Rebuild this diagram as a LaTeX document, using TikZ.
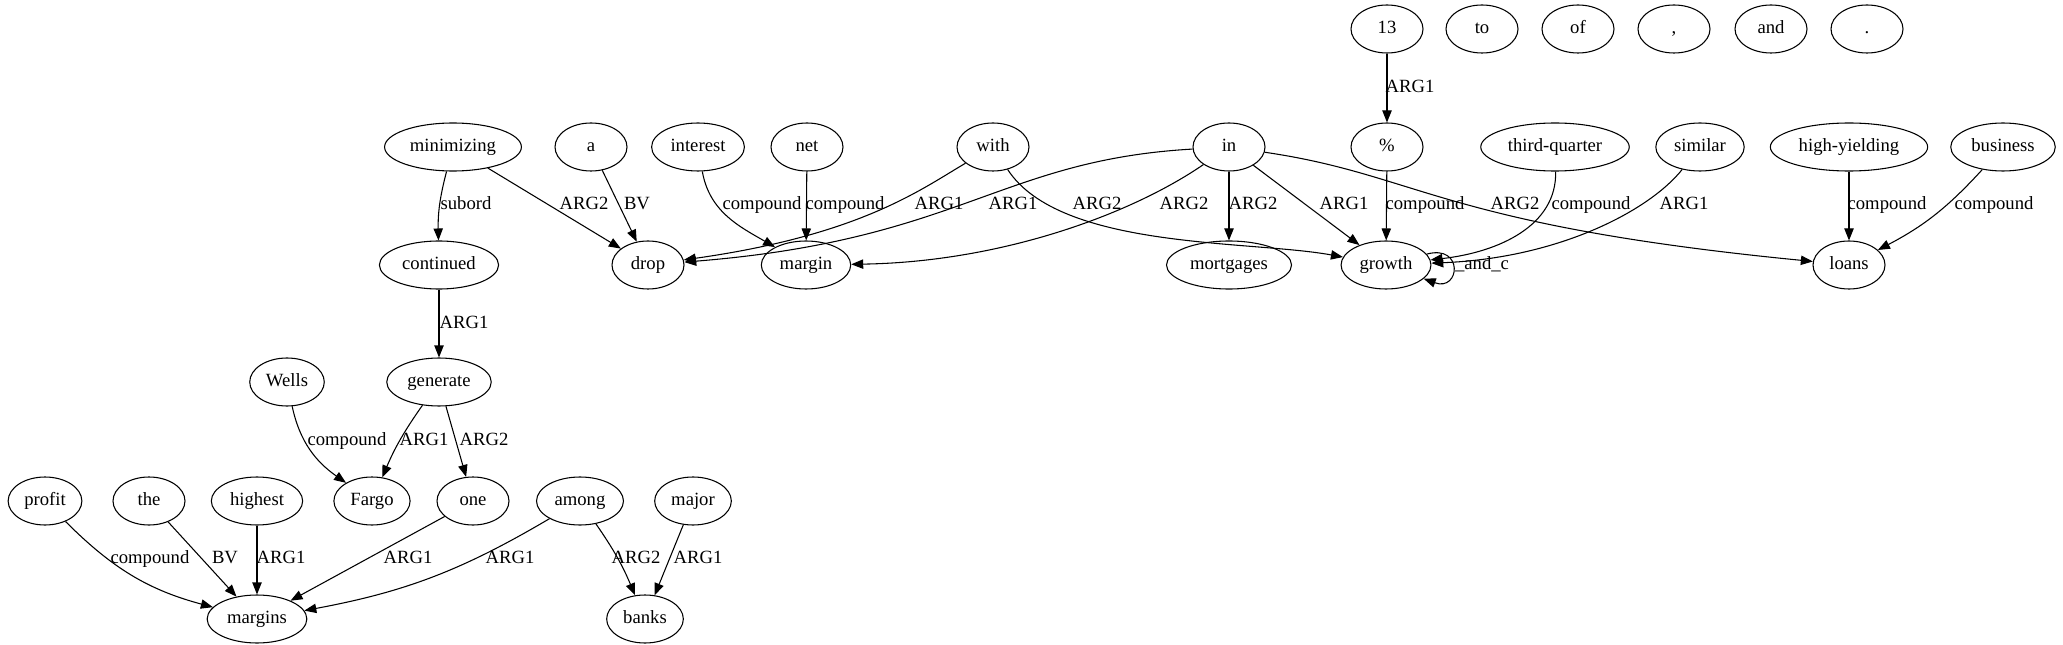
\documentclass[tikz,border=0pt]{standalone}
\usepackage{fontspec}
\setmainfont{Liberation Serif}
\newfontfamily\tokfont{Liberation Serif}
\usetikzlibrary{arrows.meta,shapes.geometric}

\begin{document}
\begin{tikzpicture}[x=0.75pt, y=0.75pt,
  tok/.style={draw, ellipse, line width=0.8pt, minimum width=54pt, minimum height=36pt, inner sep=4pt, text height=9.5pt, text depth=3pt, font=\tokfont\fontsize{14}{16}\selectfont},
  lbl/.style={font=\tokfont\fontsize{14}{16}\selectfont, inner sep=0pt, text height=9.5pt, text depth=3pt},
  arr/.style={-{Triangle[length=9pt,width=7pt]}, line width=0.8pt}
]
\useasboundingbox (0,0) rectangle (2063,-645);

% tokens, top row
\node[tok] (n13) at (1387,-29) {13};
\node[tok] (wto) at (1482,-29) {to};
\node[tok] (wof) at (1578,-29) {of};
\node[tok] (comma) at (1674,-29) {,};
\node[tok] (wand) at (1771,-29) {and};
\node[tok] (period) at (1867,-29) {.};

\node[tok] (minimizing) at (453,-147) {minimizing};
\node[tok] (a) at (591,-147) {a};
\node[tok] (interest) at (698,-147) {interest};
\node[tok] (net) at (807,-147) {net};
\node[tok] (with) at (993,-147) {with};
\node[tok] (win) at (1229,-147) {in};
\node[tok] (pct) at (1387,-147) {\%};
\node[tok] (thirdq) at (1555,-147) {third-quarter};
\node[tok] (similar) at (1700,-147) {similar};
\node[tok] (highy) at (1849,-147) {high-yielding};
\node[tok] (business) at (2003,-147) {business};

\node[tok] (continued) at (439,-265) {continued};
\node[tok] (drop) at (648,-265) {drop};
\node[tok] (margin) at (806,-265) {margin};
\node[tok] (mortgages) at (1229,-265) {mortgages};
\node[tok] (growth) at (1386,-265) {growth};
\node[tok] (loans) at (1849,-265) {loans};

\node[tok] (wells) at (287,-382) {Wells};
\node[tok] (generate) at (439,-382) {generate};

\node[tok] (profit) at (45,-501) {profit};
\node[tok] (the) at (149,-501) {the};
\node[tok] (highest) at (257,-501) {highest};
\node[tok] (fargo) at (372,-501) {Fargo};
\node[tok] (one) at (473,-501) {one};
\node[tok] (among) at (580,-501) {among};
\node[tok] (major) at (693,-501) {major};

\node[tok] (margins) at (257,-619) {margins};
\node[tok] (banks) at (645,-619) {banks};

% edges
\draw[arr] (n13) -- (pct) node[lbl] at (1410,-88) {ARG1};

\draw[arr] (minimizing) to[bend right=8] (continued) node[lbl] at (466,-205) {subord};
\draw[arr] (minimizing) -- (drop) node[lbl] at (584,-205) {ARG2};
\draw[arr] (a) -- (drop) node[lbl] at (637,-205) {BV};
\draw[arr] (interest) to[out=-80,in=150] (margin) node[lbl] at (762,-205) {compound};
\draw[arr] (net) -- (margin) node[lbl] at (845,-205) {compound};
\draw[arr] (with) .. controls (920,-190) and (860,-235) .. (drop) node[lbl] at (939,-205) {ARG1};
\draw[arr] (win) .. controls (1000,-160) and (960,-240) .. (drop) node[lbl] at (1013,-205) {ARG1};
\draw[arr] (with) .. controls (1060,-250) and (1250,-240) .. (growth) node[lbl] at (1097,-205) {ARG2};
\draw[arr] (win) .. controls (1130,-215) and (1000,-262) .. (margin) node[lbl] at (1184,-205) {ARG2};
\draw[arr] (win) -- (mortgages) node[lbl] at (1253,-205) {ARG2};
\draw[arr] (win) -- (growth) node[lbl] at (1344,-205) {ARG1};
\draw[arr] (pct) -- (growth) node[lbl] at (1425,-205) {compound};
\draw[arr] (win) .. controls (1420,-175) and (1440,-225) .. (loans) node[lbl] at (1515,-205) {ARG2};
\draw[arr] (thirdq) .. controls (1557,-225) and (1500,-252) .. (growth) node[lbl] at (1591,-205) {compound};
\draw[arr] (similar) .. controls (1650,-210) and (1560,-258) .. (growth) node[lbl] at (1684,-205) {ARG1};
\draw[arr] (growth) to[out=15,in=-20,looseness=4] (growth) node[lbl] at (1482,-265) {\_and\_c};
\draw[arr] (highy) -- (loans) node[lbl] at (1887,-205) {compound};
\draw[arr] (business) to[bend left=10] (loans) node[lbl] at (1994,-205) {compound};

\draw[arr] (continued) -- (generate) node[lbl] at (464,-324) {ARG1};

\draw[arr] (wells) to[out=-78,in=145] (fargo) node[lbl] at (347,-441) {compound};
\draw[arr] (generate) to[bend right=6] (fargo) node[lbl] at (424,-441) {ARG1};
\draw[arr] (generate) -- (one) node[lbl] at (484,-441) {ARG2};

\draw[arr] (profit) to[out=-45,in=165] (margins) node[lbl] at (150,-559) {compound};
\draw[arr] (the) -- (margins) node[lbl] at (225,-559) {BV};
\draw[arr] (highest) -- (margins) node[lbl] at (281,-559) {ARG1};
\draw[arr] (one) -- (margins) node[lbl] at (408,-559) {ARG1};
\draw[arr] (among) to[bend left=10] (margins) node[lbl] at (510,-559) {ARG1};
\draw[arr] (among) to[bend left=6] (banks) node[lbl] at (636,-559) {ARG2};
\draw[arr] (major) -- (banks) node[lbl] at (698,-559) {ARG1};

\end{tikzpicture}
\end{document}
